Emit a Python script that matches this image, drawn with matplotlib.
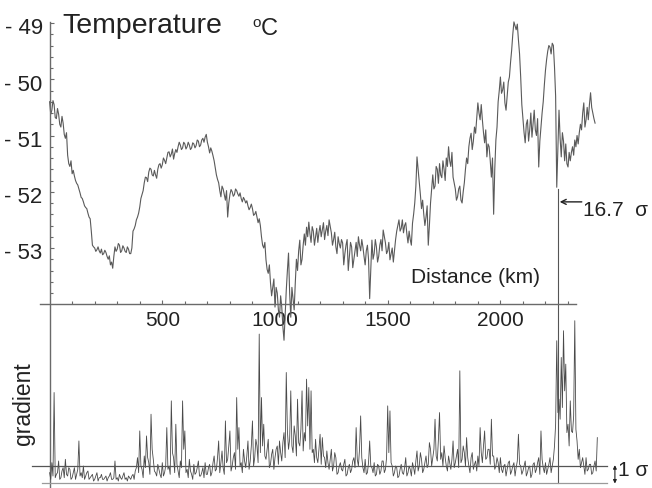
import numpy as np
import matplotlib
matplotlib.use("Agg")
import matplotlib.pyplot as plt
from matplotlib.transforms import ScaledTranslation

plt.rcParams['font.family'] = ['Liberation Sans', 'DejaVu Sans']

# ---------------------------------------------------------------- data
# temperature profile along the track, one value every 5 km (0 .. 2420 km)
distance_km = np.arange(0, 2425, 5)
temperature = [
    -50.40, -50.62, -50.55, -50.38, -50.45, -50.68, -50.70, -50.52, -50.62, -50.80,
    -50.85, -50.66, -50.78, -50.98, -51.05, -50.95, -51.35, -51.50, -51.55, -51.45,   # 0-95
    -51.68, -51.62, -51.72, -51.80, -51.85, -51.88, -51.95, -52.02, -52.10, -52.12,
    -52.18, -52.25, -52.28, -52.30, -52.38, -52.45, -52.48, -52.70, -52.95, -52.98,   # 100-195
    -53.00, -53.06, -53.03, -52.98, -53.05, -53.09, -53.02, -53.12, -53.10, -53.04,
    -53.08, -53.15, -53.20, -53.14, -53.30, -53.25, -53.36, -53.15, -52.98, -53.06,   # 200-295
    -53.02, -52.92, -52.95, -53.08, -53.05, -52.96, -53.00, -53.06, -53.08, -52.98,
    -53.02, -53.10, -53.10, -53.00, -52.70, -52.66, -52.60, -52.50, -52.45, -52.38,   # 300-395
    -52.27, -52.12, -52.05, -51.98, -51.84, -51.74, -51.75, -51.82, -51.65, -51.58,
    -51.60, -51.70, -51.72, -51.62, -51.70, -51.76, -51.60, -51.52, -51.50, -51.58,   # 400-495
    -51.52, -51.40, -51.44, -51.50, -51.40, -51.30, -51.29, -51.38, -51.33, -51.24,
    -51.42, -51.32, -51.25, -51.30, -51.20, -51.12, -51.17, -51.25, -51.22, -51.12,   # 500-595
    -51.15, -51.24, -51.20, -51.12, -51.17, -51.25, -51.22, -51.13, -51.15, -51.22,
    -51.18, -51.08, -51.10, -51.20, -51.17, -51.08, -51.05, -51.12, -51.03, -50.98,   # 600-695
    -51.12, -51.20, -51.31, -51.22, -51.28, -51.36, -51.45, -51.58, -51.70, -51.78,
    -51.84, -51.98, -52.09, -51.90, -51.95, -52.05, -52.15, -51.98, -52.45, -52.20,   # 700-795
    -52.05, -51.96, -52.00, -52.08, -52.05, -51.95, -51.98, -52.04, -52.08, -52.02,
    -52.12, -52.18, -52.10, -52.14, -52.20, -52.16, -52.25, -52.32, -52.28, -52.22,   # 800-895
    -52.30, -52.42, -52.40, -52.35, -52.45, -52.55, -52.48, -52.60, -52.80, -52.95,
    -53.00, -52.90, -53.21, -53.38, -53.45, -53.30, -53.62, -53.85, -53.70, -53.55,   # 900-995
    -54.05, -53.70, -53.80, -54.10, -54.23, -53.85, -54.05, -54.40, -54.64, -54.20,
    -53.75, -53.40, -53.09, -53.80, -54.23, -53.70, -53.90, -54.10, -53.62, -53.20,   # 1000-1095
    -53.40, -53.05, -52.86, -53.30, -53.20, -52.95, -52.75, -52.95, -52.63, -52.80,
    -52.54, -52.75, -52.90, -52.62, -52.70, -52.95, -52.80, -52.65, -52.90, -52.72,   # 1100-1195
    -52.60, -52.80, -52.68, -52.55, -52.85, -52.70, -52.60, -52.78, -52.50, -52.62,
    -52.73, -52.95, -52.85, -52.72, -52.98, -53.10, -52.80, -52.92, -53.00, -52.85,   # 1200-1295
    -52.91, -53.30, -53.10, -52.95, -52.85, -53.40, -53.16, -52.90, -52.98, -53.35,
    -53.20, -53.05, -52.90, -53.15, -52.80, -52.95, -53.05, -52.85, -52.98, -53.15,   # 1300-1395
    -53.30, -53.05, -52.95, -53.20, -53.90, -53.40, -52.86, -53.20, -53.10, -52.85,
    -52.98, -53.25, -53.15, -52.95, -52.85, -53.05, -52.68, -52.80, -52.91, -53.10,   # 1400-1495
    -53.05, -52.90, -53.21, -53.10, -53.00, -53.25, -53.04, -52.85, -52.70, -52.60,
    -52.50, -52.70, -52.65, -52.50, -52.73, -52.60, -52.55, -52.75, -52.91, -52.70,   # 1500-1595
    -52.85, -52.95, -52.56, -52.40, -52.20, -51.90, -51.38, -51.60, -51.80, -52.05,
    -52.30, -52.15, -52.40, -52.60, -52.45, -52.25, -52.95, -52.60, -52.20, -51.95,   # 1600-1695
    -51.70, -51.95, -51.90, -51.55, -51.60, -51.85, -51.50, -51.70, -51.75, -51.45,
    -51.60, -51.80, -51.40, -51.55, -51.20, -51.45, -51.55, -51.30, -51.74, -51.85,   # 1700-1795
    -51.95, -52.15, -52.09, -51.95, -51.90, -52.15, -52.20, -52.00, -51.84, -51.60,
    -51.40, -51.50, -51.20, -51.05, -50.96, -51.25, -51.10, -50.85, -50.96, -50.70,   # 1800-1895
    -50.42, -50.60, -50.72, -50.45, -50.72, -50.95, -51.13, -50.90, -51.38, -51.15,
    -51.20, -51.45, -51.74, -51.40, -52.40, -51.60, -51.08, -50.85, -50.40, -50.20,   # 1900-1995
    -49.96, -50.25, -50.19, -50.05, -50.42, -50.55, -50.30, -50.05, -49.96, -49.70,
    -49.48, -49.20, -48.98, -49.05, -49.12, -49.02, -49.30, -49.55, -49.96, -50.45,   # 2000-2095
    -50.70, -50.95, -51.13, -50.80, -50.72, -51.10, -50.90, -50.60, -51.03, -50.80,
    -50.55, -50.90, -51.00, -50.70, -51.56, -51.10, -50.85, -50.60, -50.40, -50.10,   # 2100-2195
    -49.84, -49.65, -49.50, -49.40, -49.43, -49.55, -49.36, -49.40, -49.78, -50.30,
    -51.92, -51.20, -50.55, -51.05, -51.38, -50.95, -51.10, -51.45, -51.15, -51.50,   # 2200-2295
    -51.56, -51.30, -51.45, -51.30, -51.20, -51.35, -51.08, -51.20, -51.00, -51.15,
    -50.95, -50.80, -50.90, -50.60, -50.42, -50.85, -50.72, -50.50, -50.72, -50.45,   # 2300-2395
    -50.24, -50.50, -50.60, -50.70, -50.78,                                           # 2400-2420
]

# absolute temperature gradient in units of its standard deviation, every 5 km
gradient_km = np.arange(0, 2435, 5)
gradient_sigma = [
    0.6, 0.2, 1.2, 0.4, 5.4, 0.3, 0.5, 0.6, 1.3, 0.2, 0.3, 0.7, 0.9, 0.3, 1.4, 0.5, 0.4, 0.9, 0.8, 0.2,   # 0-95
    0.3, 0.6, 0.9, 0.2, 0.5, 0.8, 2.5, 0.4, 0.6, 0.3, 1.0, 0.2, 0.4, 0.6, 0.7, 0.2, 0.3, 0.4, 0.5, 0.1,   # 100-195
    0.2, 0.4, 0.6, 0.1, 0.3, 0.3, 0.5, 0.2, 0.2, 0.3, 0.4, 0.1, 0.3, 0.4, 0.6, 0.2, 0.2, 0.3, 1.3, 0.2,   # 200-295
    0.3, 0.1, 0.5, 0.3, 0.2, 0.4, 0.6, 0.2, 0.3, 0.1, 0.4, 0.3, 0.2, 0.4, 0.5, 0.2, 0.7, 0.9, 1.5, 0.6,   # 300-395
    3.1, 1.0, 0.8, 0.3, 1.6, 0.9, 2.8, 1.5, 1.2, 0.5, 4.1, 2.0, 1.4, 0.7, 0.6, 0.4, 1.1, 0.8, 0.5, 0.3,   # 400-495
    1.2, 0.4, 0.6, 1.0, 3.3, 0.8, 1.0, 0.5, 4.9, 1.8, 1.5, 0.6, 3.5, 1.1, 0.7, 0.3, 1.3, 0.9, 4.9, 2.0,   # 500-595
    3.1, 0.6, 0.8, 0.3, 1.4, 0.7, 0.5, 0.2, 1.1, 0.5, 0.6, 0.9, 1.3, 0.4, 0.4, 0.6, 0.9, 0.3, 1.2, 0.5,   # 600-695
    0.5, 0.9, 1.1, 0.4, 0.6, 1.2, 1.6, 0.7, 0.8, 1.5, 2.5, 0.6, 1.2, 1.9, 0.9, 0.5, 3.7, 1.2, 1.4, 2.2,   # 700-795
    3.1, 0.7, 1.0, 1.5, 1.8, 0.8, 5.1, 2.0, 3.3, 1.0, 1.2, 0.6, 2.0, 1.3, 0.9, 1.6, 2.5, 0.8, 1.3, 2.2,   # 800-895
    3.7, 1.0, 1.5, 2.6, 2.2, 1.2, 8.9, 1.8, 5.1, 2.2, 3.5, 1.6, 1.4, 2.0, 2.6, 0.9, 1.1, 1.7, 2.0, 0.8,   # 900-995
    1.5, 2.0, 2.2, 1.1, 2.5, 1.8, 1.3, 2.4, 3.0, 1.5, 6.6, 3.1, 2.0, 2.6, 5.5, 2.2, 1.8, 3.4, 2.8, 1.6,   # 1000-1095
    5.0, 2.4, 2.2, 3.2, 5.5, 1.9, 3.0, 2.5, 6.2, 3.4, 5.7, 2.0, 5.5, 1.8, 2.0, 1.2, 2.6, 1.5, 1.2, 2.0,   # 1100-1195
    2.9, 1.1, 2.7, 1.6, 1.5, 0.9, 1.9, 1.2, 0.8, 1.4, 2.0, 0.7, 1.0, 1.8, 1.5, 0.5, 0.6, 1.0, 1.2, 0.8,   # 1200-1295
    0.7, 1.1, 1.4, 0.4, 0.5, 0.9, 1.1, 0.6, 0.8, 1.3, 1.5, 0.9, 3.3, 1.4, 1.0, 2.0, 4.0, 1.5, 0.9, 0.6,   # 1300-1395
    1.4, 0.5, 0.6, 1.2, 2.5, 1.0, 0.9, 0.6, 1.2, 0.4, 0.5, 1.1, 1.0, 0.5, 0.7, 1.3, 1.3, 0.6, 0.8, 1.5,   # 1400-1495
    4.6, 1.8, 4.3, 1.2, 1.0, 0.4, 0.6, 1.0, 0.9, 0.3, 0.4, 0.8, 1.1, 0.6, 0.5, 0.9, 1.5, 0.4, 0.6, 1.0,   # 1500-1595
    0.8, 0.4, 1.2, 0.9, 0.5, 1.3, 1.9, 0.7, 1.0, 1.8, 1.4, 0.6, 0.8, 1.2, 1.6, 0.9, 1.1, 2.4, 2.0, 1.0,   # 1600-1695
    1.5, 2.0, 3.8, 1.6, 1.3, 2.6, 4.2, 1.4, 1.8, 1.0, 2.2, 1.5, 1.0, 0.7, 1.6, 1.2, 0.8, 1.4, 2.5, 0.9,   # 1700-1795
    1.2, 1.6, 2.0, 0.9, 6.7, 1.2, 1.4, 2.2, 1.8, 1.0, 2.7, 1.5, 1.0, 0.6, 1.5, 1.8, 0.8, 1.1, 1.3, 0.7,   # 1800-1895
    1.6, 1.0, 3.3, 1.8, 1.2, 2.2, 3.1, 1.4, 1.5, 2.0, 2.0, 1.1, 3.8, 1.6, 1.6, 0.8, 1.0, 1.5, 1.2, 0.6,   # 1900-1995
    1.5, 0.8, 0.6, 1.0, 1.1, 0.4, 0.8, 1.2, 1.3, 0.5, 0.7, 1.0, 1.2, 0.4, 0.9, 1.3, 2.9, 1.1, 1.0, 0.5,   # 2000-2095
    0.7, 1.0, 1.3, 0.4, 0.6, 0.9, 1.0, 0.3, 0.5, 1.1, 1.2, 0.6, 0.8, 1.2, 1.5, 0.5, 3.1, 1.4, 0.9, 0.6,   # 2100-2195
    1.2, 0.5, 0.8, 1.1, 1.5, 0.6, 1.0, 1.4, 2.2, 3.5, 8.5, 4.2, 5.0, 3.8, 7.5, 4.5, 9.1, 5.5, 7.1, 3.0,   # 2200-2295
    3.5, 2.2, 4.9, 3.1, 3.0, 4.0, 9.7, 3.2, 2.5, 1.4, 2.0, 0.9, 1.2, 1.5, 1.0, 0.5, 1.5, 0.7, 0.8, 1.1,   # 2300-2395
    1.1, 0.5, 0.6, 1.0, 1.3, 0.7, 2.7,                                                               # 2400-2430
]

x_ticks = [500, 1000, 1500, 2000]
t_ticks = [-53, -52, -51, -50, -49]
t_tick_labels = ["- 53", "- 52", "- 51", "- 50", "- 49"]
jump_km = 2257          # position of the marked jump
jump_label = "16.7  σ"

assert len(distance_km) == len(temperature)
assert len(gradient_km) == len(gradient_sigma)

# ---------------------------------------------------------------- layout
W, H, DPI = 652, 488, 100
x0_px, px_per_km = 49.6, 0.2254          # horizontal scale
t_ref_px, px_per_deg = 23.0, 56.25       # -49 degC sits at t_ref_px
g0_px, px_per_sigma = 482.7, 16.7        # gradient baseline and scale

xlim = (-x0_px / px_per_km, (W - x0_px) / px_per_km)
tlim = (-49 - (H - t_ref_px) / px_per_deg, -49 + t_ref_px / px_per_deg)
glim = (-(H - g0_px) / px_per_sigma, g0_px / px_per_sigma)

fig = plt.figure(figsize=(W / DPI, H / DPI), dpi=DPI)
axis_col = '#6a6a6a'

# ---------------------------------------------------------------- temperature
ax = fig.add_axes([0, 0, 1, 1])
ax.set_xlim(*xlim)
ax.set_ylim(*tlim)
ax.patch.set_alpha(0)
for s in ('top', 'right'):
    ax.spines[s].set_visible(False)
ax.spines['left'].set_position(('data', 0))
ax.spines['left'].set_bounds(tlim[0], -48.98)
ax.spines['bottom'].set_position(('data', -54.0))
ax.spines['bottom'].set_bounds(-43, 2335)
for s in ('left', 'bottom'):
    ax.spines[s].set_color(axis_col)
    ax.spines[s].set_linewidth(1.0)

ax.set_xticks(x_ticks)
ax.set_xticklabels([str(v) for v in x_ticks])
ax.set_xticks([v for v in range(100, 2400, 100) if v not in x_ticks], minor=True)
ax.set_yticks(t_ticks)
ax.set_yticklabels(t_tick_labels)
minor_t = [round(-53.8 + 0.2 * i, 1) for i in range(24)]
ax.set_yticks([v for v in minor_t if abs(v - round(v)) > 1e-6], minor=True)
ax.tick_params(axis='both', which='both', direction='in', color=axis_col, width=0.8)
ax.tick_params(axis='both', which='major', length=3)
ax.tick_params(axis='both', which='minor', length=2)
ax.tick_params(axis='x', which='major', labelsize=15, pad=4.8, labelcolor='#222222')
ax.tick_params(axis='y', which='major', labelsize=16, pad=5.0, labelcolor='#222222')
for lab in ax.get_yticklabels():
    lab.set_transform(lab.get_transform() + ScaledTranslation(0, -2.5 / 72, fig.dpi_scale_trans))

ax.plot(distance_km, temperature, color='#5a5a5a', lw=0.8)

# marked jump: vertical guide down through the gradient panel, arrow and label
ax.plot([jump_km, jump_km], [-51.95, -49 - (g0_px - t_ref_px) / px_per_deg],
        color='#555555', lw=0.8, clip_on=False)
ax.annotate('', xy=(jump_km + 6, -52.18), xytext=(2361, -52.18),
            arrowprops=dict(arrowstyle='->', color='#222222', lw=1.0,
                            mutation_scale=9, shrinkA=0, shrinkB=0))
ax.text(2366, -52.33, jump_label, fontsize=15, ha='left', va='center', color='#222222')

# ---------------------------------------------------------------- gradient
ax2 = fig.add_axes([0, 0, 1, 1])
ax2.set_xlim(*xlim)
ax2.set_ylim(*glim)
ax2.axis('off')
ax2.patch.set_alpha(0)
ax2.plot(gradient_km, gradient_sigma, color='#4a4a4a', lw=0.6)
ax2.plot([-78, 2473], [1, 1], color='#555555', lw=0.9)
ax2.plot([-34, 2473], [0, 0], color='#9a9a9a', lw=0.9)
ax2.annotate('', xy=(2508, -0.05), xytext=(2508, 1.05),
             arrowprops=dict(arrowstyle='<|-|>', color='#222222', lw=0.8,
                             mutation_scale=5, shrinkA=0, shrinkB=0))
ax2.text(2522, 0.72, "1 σ", fontsize=15, ha='left', va='center', color='#222222')

# ---------------------------------------------------------------- titles
def fig_text(x_px, y_px, s, **kw):
    fig.text(x_px / W, 1 - y_px / H, s, color='#222222', **kw)

fig_text(62, 33, "Temperature", fontsize=20.5, ha='left', va='baseline')
fig_text(252, 27, "o", fontsize=11, ha='left', va='baseline')
fig_text(261, 35, "C", fontsize=17, ha='left', va='baseline')
fig_text(411, 283, "Distance (km)", fontsize=15, ha='left', va='baseline')
fig_text(23, 404, "gradient", fontsize=16.5, ha='center', va='center', rotation=90)

fig.savefig("out.png", dpi=DPI)
